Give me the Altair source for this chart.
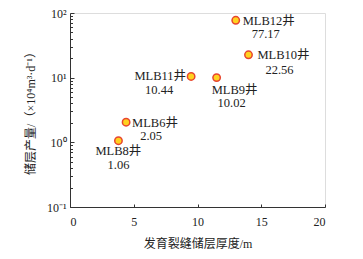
import altair as alt
import pandas as pd

wells = ["MLB8井", "MLB6井", "MLB11井", "MLB9井", "MLB12井", "MLB10井"]
thickness = [3.8, 4.4, 9.5, 11.5, 13.0, 14.0]
production = [1.06, 2.05, 10.44, 10.02, 77.17, 22.56]

df = pd.DataFrame({"well": wells, "thick": thickness, "prod": production})
df["val"] = [f"{v:.2f}" for v in production]

# label offsets (layout only): name dx, dy, align ; value dx, dy
label_layout = {
    "MLB8井": (-23, 10, "left", 0, 24),
    "MLB6井": (6, 1, "left", 25, 14),
    "MLB11井": (-5, 0, "right", -32, 14),
    "MLB9井": (-5, 12, "left", 15, 25),
    "MLB12井": (7, 1, "left", 30, 14),
    "MLB10井": (9, 0, "left", 31, 15),
}

FONT = "Liberation Serif, Noto Sans CJK SC"

x = alt.X("thick:Q", scale=alt.Scale(domain=[0, 20], nice=False),
          axis=alt.Axis(values=[0, 5, 10, 15, 20], title="发育裂缝储层厚度/m",
                        tickSize={"expr": "-3"}, labelPadding=12, titlePadding=11,
                        grid=False, labelFont=FONT, titleFont=FONT,
                        labelFontSize=12, titleFontSize=12, titleFontWeight="normal",
                        domainColor="#333", tickColor="#333", labelColor="#222",
                        titleColor="#222"))
y = alt.Y("prod:Q", scale=alt.Scale(type="log", domain=[0.1, 100], nice=False),
          axis=alt.Axis(title="储层产量/（×10⁴m³·d⁻¹）", grid=False,
                        tickCount=20,
                        tickSize={"expr": "abs(log(datum.value)/LN10 - round(log(datum.value)/LN10)) < 1e-6 ? -4 : -2.5"},
                        labelExpr="abs(log(datum.value)/LN10 - 2) < 1e-6 ? '10²' : abs(log(datum.value)/LN10 - 1) < 1e-6 ? '10¹' : abs(log(datum.value)/LN10) < 1e-6 ? '10⁰' : abs(log(datum.value)/LN10 + 1) < 1e-6 ? '10⁻¹' : ''",
                        labelPadding=8, titlePadding=9,
                        labelFont=FONT, titleFont=FONT,
                        labelFontSize=12, titleFontSize=12, titleFontWeight="normal",
                        domainColor="#333", tickColor="#333", labelColor="#222",
                        titleColor="#222"))

base = alt.Chart(df)

points = base.mark_point(filled=True, fill="#FFD21F", stroke="#E8452F",
                         strokeWidth=1.5, size=55, opacity=1).encode(x=x, y=y)

layers = [points]
for w, (ndx, ndy, nalign, vdx, vdy) in label_layout.items():
    sub = base.transform_filter(alt.datum.well == w)
    layers.append(sub.mark_text(align=nalign, baseline="middle", dx=ndx, dy=ndy,
                                font=FONT, fontSize=12.5, color="#222")
                  .encode(x="thick:Q", y="prod:Q", text="well:N"))
    layers.append(sub.mark_text(align="center", baseline="middle", dx=vdx, dy=vdy,
                                font=FONT, fontSize=12.5, color="#222")
                  .encode(x="thick:Q", y="prod:Q", text="val:N"))

chart = alt.layer(*layers).properties(
    width=255, height=194,
    autosize=alt.AutoSizeParams(type="none"),
    padding={"left": 70, "top": 13, "right": 38, "bottom": 52},
).configure_view(stroke=None).configure(background="white")

chart.save("out.html", embed_options={"renderer": "svg", "actions": False})
